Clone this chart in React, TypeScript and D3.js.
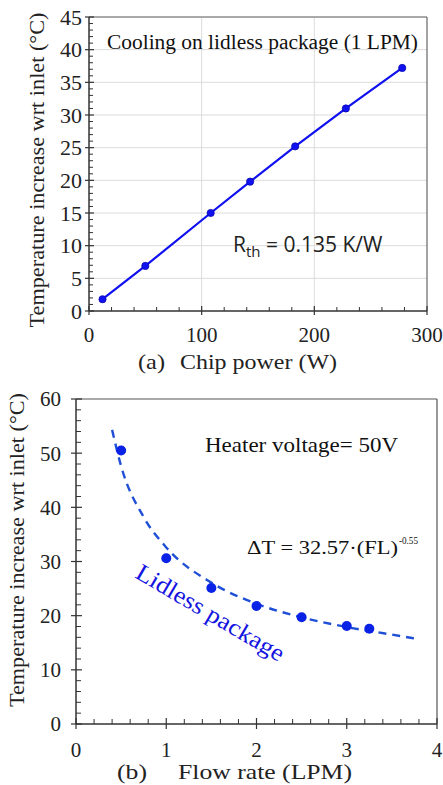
import React from "react";
import * as d3 from "d3";

// (a) temperature rise vs chip power at 1 LPM
const powerW = [12, 50, 108, 143, 183, 228, 278];
const tempRiseA = [1.8, 6.9, 15.0, 19.8, 25.2, 31.0, 37.2];
const xTicksA = [0, 100, 200, 300];
const yTicksA = [0, 5, 10, 15, 20, 25, 30, 35, 40, 45];

// (b) temperature rise vs flow rate at 50V
const flowLPM = [0.5, 1.0, 1.5, 2.0, 2.5, 3.0, 3.25];
const tempRiseB = [50.5, 30.6, 25.1, 21.8, 19.7, 18.1, 17.6];
// dashed fit curve
const fitFlow = [0.4, 0.5, 0.75, 1, 1.5, 2, 2.5, 3, 3.5, 3.75];
const fitTemp = [54.3, 47.6, 38.2, 32.6, 26.1, 22.2, 19.7, 17.9, 16.5, 15.8];
const xTicksB = [0, 1, 2, 3, 4];
const yTicksB = [0, 10, 20, 30, 40, 50, 60];

const SERIF = "'Liberation Serif', 'Times New Roman', serif";
const SANS = "'Open Sans', 'Noto Sans', sans-serif";
const AXIS = "#333";
const BLUE = "#1010f0";
const FIT = "spacingAndGlyphs";

export default function App() {
  // --- chart (a) ---
  const xA = d3.scaleLinear().domain([0, 300]).range([89, 427]);
  const yA = d3.scaleLinear().domain([0, 45]).range([311, 17]);
  const lineA = d3
    .line<number>()
    .x((d, i) => xA(powerW[i]))
    .y((d) => yA(d));
  const minorXA = d3.range(0, 301, 20).filter((v) => v % 100 !== 0);
  const minorYA = d3.range(0, 46, 1).filter((v) => v % 5 !== 0);

  // --- chart (b) ---
  const xB = d3.scaleLinear().domain([0, 4]).range([76, 437]);
  const yB = d3.scaleLinear().domain([0, 60]).range([724, 399]);
  const fitLine = d3
    .line<number>()
    .x((d, i) => xB(fitFlow[i]))
    .y((d) => yB(d))
    .curve(d3.curveMonotoneX);
  const minorXB = d3.range(0, 21, 1).map((v) => v / 5).filter((v) => Math.abs(v - Math.round(v)) > 1e-6);
  const minorYB = d3.range(0, 61, 2).filter((v) => v % 10 !== 0);

  return (
    <div style={{ position: "absolute", left: 0, top: 0 }}>
      <svg width={443} height={785} style={{ display: "block", background: "#fff" }}>
        {/* ================= (a) ================= */}
        <g>
          {yTicksA.slice(1).map((t) => (
            <line key={"gy" + t} x1={xA(0)} x2={xA(300)} y1={yA(t)} y2={yA(t)} stroke="#dcdcdc" strokeWidth={1} />
          ))}
          {[100, 200].map((t) => (
            <line key={"gx" + t} x1={xA(t)} x2={xA(t)} y1={yA(0)} y2={yA(45)} stroke="#dcdcdc" strokeWidth={1} />
          ))}
          {/* frame */}
          <line x1={xA(0)} x2={xA(300)} y1={yA(45)} y2={yA(45)} stroke="#666" strokeWidth={1.2} />
          <line x1={xA(300)} x2={xA(300)} y1={yA(0)} y2={yA(45)} stroke="#666" strokeWidth={1.2} />
          {/* axes */}
          <line x1={xA(0)} x2={xA(300)} y1={yA(0)} y2={yA(0)} stroke={AXIS} strokeWidth={1.5} />
          <line x1={xA(0)} x2={xA(0)} y1={yA(0)} y2={yA(45)} stroke={AXIS} strokeWidth={1.5} />
          {minorXA.map((t) => (
            <line key={"mxa" + t} x1={xA(t)} x2={xA(t)} y1={yA(0)} y2={yA(0) - 4} stroke={AXIS} strokeWidth={1} />
          ))}
          {xTicksA.map((t) => (
            <line key={"xa" + t} x1={xA(t)} x2={xA(t)} y1={yA(0) + 4} y2={yA(0) - 5} stroke={AXIS} strokeWidth={1.2} />
          ))}
          {minorYA.map((t) => (
            <line key={"mya" + t} x1={xA(0)} x2={xA(0) + 4} y1={yA(t)} y2={yA(t)} stroke={AXIS} strokeWidth={1} />
          ))}
          {yTicksA.map((t) => (
            <line key={"ya" + t} x1={xA(0) - 4} x2={xA(0) + 5} y1={yA(t)} y2={yA(t)} stroke={AXIS} strokeWidth={1.2} />
          ))}
          {xTicksA.map((t) => (
            <text key={"xla" + t} x={xA(t)} y={342} textAnchor="middle" fontFamily={SERIF} fontSize={21} fill="#222">
              {t}
            </text>
          ))}
          {yTicksA.map((t) => (
            <text key={"yla" + t} x={82} y={yA(t)} dy="0.35em" textAnchor="end" fontFamily={SERIF} fontSize={22} fill="#222">
              {t}
            </text>
          ))}
          <path d={lineA(tempRiseA) ?? ""} fill="none" stroke={BLUE} strokeWidth={2.2} />
          {tempRiseA.map((v, i) => (
            <circle key={"pa" + i} cx={xA(powerW[i])} cy={yA(v)} r={3.6} fill={BLUE} stroke="#0808b0" strokeWidth={0.8} />
          ))}
          <text x={107} y={49} fontFamily={SERIF} fontSize={20} fill="#111" textLength={311} lengthAdjust={FIT}>
            Cooling on lidless package (1 LPM)
          </text>
          <text x={233} y={252} fontFamily={SANS} fontSize={21} fill="#222">
            R<tspan fontSize={15} dy={5}>th</tspan>
            <tspan dy={-5}> = 0.135 K/W</tspan>
          </text>
          <text
            transform="translate(44,170) rotate(-90)"
            textAnchor="middle"
            fontFamily={SERIF}
            fontSize={20}
            fill="#222"
            textLength={315}
            lengthAdjust={FIT}
          >
            Temperature increase wrt inlet (°C)
          </text>
          <text x={138} y={369} fontFamily={SERIF} fontSize={21} fill="#222" textLength={27} lengthAdjust={FIT}>
            (a)
          </text>
          <text x={180} y={369} fontFamily={SERIF} fontSize={21} fill="#222" textLength={157} lengthAdjust={FIT}>
            Chip power (W)
          </text>
        </g>

        {/* ================= (b) ================= */}
        <g>
          <line x1={xB(0)} x2={xB(4)} y1={yB(60)} y2={yB(60)} stroke="#555" strokeWidth={1.2} />
          <line x1={xB(4)} x2={xB(4)} y1={yB(0)} y2={yB(60)} stroke="#555" strokeWidth={1.2} />
          <line x1={xB(0)} x2={xB(4)} y1={yB(0)} y2={yB(0)} stroke={AXIS} strokeWidth={1.5} />
          <line x1={xB(0)} x2={xB(0)} y1={yB(0)} y2={yB(60)} stroke={AXIS} strokeWidth={1.5} />
          {minorXB.map((t) => (
            <line key={"mxb" + t} x1={xB(t)} x2={xB(t)} y1={yB(0)} y2={yB(0) - 5} stroke={AXIS} strokeWidth={1} />
          ))}
          {xTicksB.map((t) => (
            <line key={"xb" + t} x1={xB(t)} x2={xB(t)} y1={yB(0) + 5} y2={yB(0) - 6} stroke={AXIS} strokeWidth={1.2} />
          ))}
          {minorYB.map((t) => (
            <line key={"myb" + t} x1={xB(0)} x2={xB(0) + 5} y1={yB(t)} y2={yB(t)} stroke={AXIS} strokeWidth={1} />
          ))}
          {yTicksB.map((t) => (
            <line key={"yb" + t} x1={xB(0) - 5} x2={xB(0) + 6} y1={yB(t)} y2={yB(t)} stroke={AXIS} strokeWidth={1.2} />
          ))}
          {xTicksB.map((t) => (
            <text key={"xlb" + t} x={xB(t)} y={757} textAnchor="middle" fontFamily={SERIF} fontSize={21} fill="#222">
              {t}
            </text>
          ))}
          {yTicksB.map((t) => (
            <text key={"ylb" + t} x={61} y={yB(t)} dy="0.35em" textAnchor="end" fontFamily={SERIF} fontSize={21} fill="#222">
              {t}
            </text>
          ))}
          <path d={fitLine(fitTemp) ?? ""} fill="none" stroke="#1f4fd6" strokeWidth={2.4} strokeDasharray="8 6" />
          {tempRiseB.map((v, i) => (
            <circle key={"pb" + i} cx={xB(flowLPM[i])} cy={yB(v)} r={5} fill="#0a22e6" />
          ))}
          <text x={205} y={452} fontFamily={SERIF} fontSize={21} fill="#111" textLength={193} lengthAdjust={FIT}>
            Heater voltage= 50V
          </text>
          <text x={247} y={554} fontFamily={SERIF} fontSize={19} fill="#111" textLength={151} lengthAdjust={FIT}>
            ΔT = 32.57·(FL)
          </text>
          <text x={399} y={544} fontFamily={SERIF} fontSize={11} fill="#111" textLength={19} lengthAdjust={FIT}>
            -0.55
          </text>
          <text
            transform="translate(134,577) rotate(30.5)"
            fontFamily={SERIF}
            fontSize={24}
            fill="#1414e0"
            textLength={168}
            lengthAdjust={FIT}
          >
            Lidless package
          </text>
          <text
            transform="translate(24,550) rotate(-90)"
            textAnchor="middle"
            fontFamily={SERIF}
            fontSize={20}
            fill="#222"
            textLength={314}
            lengthAdjust={FIT}
          >
            Temperature increase wrt inlet (°C)
          </text>
          <text x={117} y={779} fontFamily={SERIF} fontSize={21} fill="#222" textLength={30} lengthAdjust={FIT}>
            (b)
          </text>
          <text x={178} y={779} fontFamily={SERIF} fontSize={21} fill="#222" textLength={174} lengthAdjust={FIT}>
            Flow rate (LPM)
          </text>
        </g>
      </svg>
    </div>
  );
}
